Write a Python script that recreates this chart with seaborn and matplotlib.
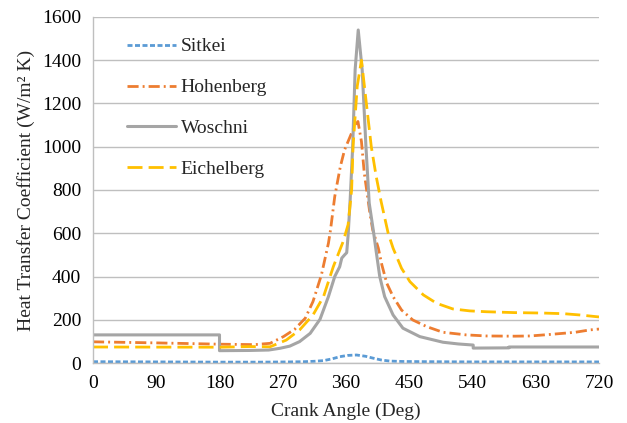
import matplotlib
matplotlib.use("Agg")
import matplotlib.pyplot as plt
import seaborn as sns
import pandas as pd

# ---- data ----
sitkei_deg = [0, 90, 180, 240, 280, 300, 315, 328, 340, 351, 362, 375, 388, 399, 410, 422, 440, 480, 540, 630, 720]
sitkei_val = [6, 5, 4, 4, 5, 6, 8, 11, 19, 29, 35, 37, 31, 22, 14, 9, 7, 6, 5, 5, 5]

hohen_deg = [0, 90, 180, 230, 252, 271, 287, 302, 313, 325, 335, 338, 341, 344, 348, 352, 358, 366, 372, 377,
             382, 386, 390, 394, 398, 406, 411, 418, 427, 439, 455, 475, 498, 531, 560, 600, 622, 650, 686, 707, 720]
hohen_val = [98, 93, 87, 85, 91, 122, 156, 207, 284, 407, 554, 616, 693, 770, 840, 909, 986, 1048, 1095, 1117,
             1024, 878, 786, 693, 616, 531, 454, 369, 307, 245, 199, 168, 142, 130, 125, 124, 125, 132, 142, 153, 157]

woschni_deg = [0, 180, 180, 223, 250, 266, 280, 294, 309, 323, 335, 344, 351, 354, 358, 361, 363, 366, 369.5, 373,
               377.4, 383, 388.4, 393, 399, 403, 408, 415, 427, 441, 465, 498, 520, 541, 541, 592, 592, 720]
woschni_val = [130, 130, 57, 58, 60, 68, 78, 99, 137, 202, 307, 400, 445, 485, 500, 510, 590, 760, 1000, 1356,
               1540, 1356, 1000, 740, 610, 515, 400, 307, 222, 161, 122, 96, 88, 83, 69, 70, 74, 74]

eich_deg = [0, 180, 223, 252, 275, 294, 313, 328, 342, 356, 363, 368, 370, 376, 382, 389, 396, 403, 410, 420,
            427, 439, 451, 470, 489, 512, 536, 560, 600, 640, 670, 693, 720]
eich_val = [74, 73, 76, 75, 106, 153, 222, 307, 446, 562, 640, 800, 1000, 1280, 1400, 1200, 1000, 862, 746, 600,
            531, 438, 376, 315, 276, 250, 241, 237, 233, 231, 228, 222, 213]

x_ticks = [0, 90, 180, 270, 360, 450, 540, 630, 720]
y_ticks = [0, 200, 400, 600, 800, 1000, 1200, 1400, 1600]

sns.set_style("white")
plt.rcParams['font.family'] = ['Liberation Serif', 'DejaVu Serif']
plt.rcParams['font.size'] = 14

fig = plt.figure(figsize=(6.27, 4.23), dpi=100)
ax = fig.add_axes([93/627, 1-363/423, 506/627, 346/423])

series = [
    ("Sitkei", sitkei_deg, sitkei_val, "#5B9BD5", 2.0, (0, (1.8, 0.9))),
    ("Hohenberg", hohen_deg, hohen_val, "#ED7D31", 2.0, (0, (4, 1.45, 0.7, 1.45))),
    ("Woschni", woschni_deg, woschni_val, "#A5A5A5", 2.2, "-"),
    ("Eichelberg", eich_deg, eich_val, "#FFC000", 2.0, (0, (5.4, 2.2))),
]
for name, xs, ys, col, lw, ls in series:
    df = pd.DataFrame({"deg": xs, "val": ys})
    sns.lineplot(data=df, x="deg", y="val", ax=ax, color=col, linewidth=lw,
                 linestyle=ls, estimator=None, sort=False, errorbar=None, label=name)

ax.set_xlim(0, 720)
ax.set_ylim(0, 1600)
ax.set_xticks(x_ticks)
ax.set_yticks(y_ticks)
ax.grid(axis='y', color='#BFBFBF', linewidth=1.0)
ax.set_axisbelow(True)
for s in ['top', 'right']:
    ax.spines[s].set_visible(False)
for s in ['left', 'bottom']:
    ax.spines[s].set_color('#BFBFBF')
    ax.spines[s].set_linewidth(1.0)
ax.tick_params(axis='both', direction='out', length=3.6, width=1.0, color='#BFBFBF',
               labelsize=14, labelcolor='black', pad=5)
ax.set_xlabel("Crank Angle (Deg)", fontsize=14, labelpad=8)
ax.set_ylabel("Heat Transfer Coefficient (W/m² K)", fontsize=14, labelpad=5)

leg = ax.legend(loc='upper left', bbox_to_anchor=(0.067, 0.94), frameon=False,
                borderpad=0, borderaxespad=0, handlelength=2.5, handletextpad=0.26,
                labelspacing=1.2, fontsize=14)

fig.savefig("out.png", dpi=100)
